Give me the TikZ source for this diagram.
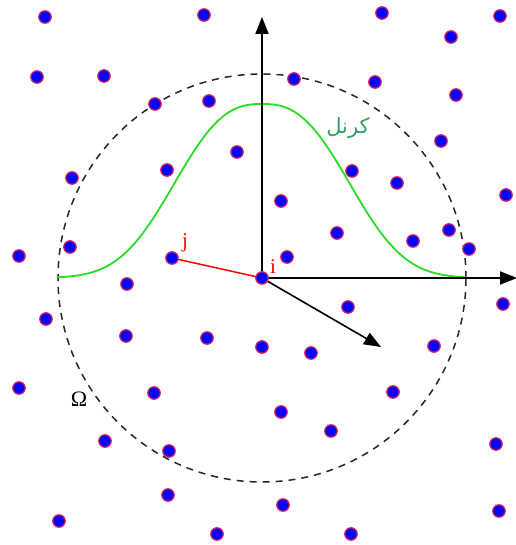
\documentclass[tikz,border=0pt]{standalone}
\usepackage{fontspec}
\newfontfamily\arabicfont[Script=Arabic]{DejaVu Sans}
\newfontfamily\lserif{Liberation Serif}
\TeXXeTstate=1
\usetikzlibrary{arrows.meta}
\definecolor{dotred}{RGB}{215,40,90}
\definecolor{kgreen}{RGB}{40,220,40}
\definecolor{ktext}{RGB}{50,160,100}
\begin{document}
\begin{tikzpicture}[x=1pt,y=-1pt,
  pt/.style={circle,fill=blue,draw=dotred,line width=1.2pt,minimum size=12.5pt,inner sep=0pt},
  axis/.style={line width=2pt,-{Triangle[length=17pt,width=13pt]}},
  dircol/.style={line width=1.6pt,-{Triangle[length=17pt,width=13pt]}},
  omegaline/.style={dashed,dash pattern=on 7pt off 6pt,line width=1.5pt,black!85},
  kcurve/.style={kgreen,line width=1.8pt},
  lbl/.style={red,font=\lserif\fontsize{21pt}{21pt}\selectfont,inner sep=0pt}]
\useasboundingbox (0,0) rectangle (515,545);
\coordinate (i) at (262,278);
\coordinate (j) at (172,258);
\coordinate (ytip) at (262,17);
\coordinate (xtip) at (517,278);
\coordinate (dtip) at (381,347);
% domain
\draw[omegaline] (i) circle (204pt);
% kernel
\draw[kcurve] plot[domain=-205:205,samples=201] ({262+\x},{278-174*exp(-((abs(\x)+0.01)/106)^2.6)});
% axes
\draw[axis] (i) -- (ytip);
\draw[axis] (i) -- (xtip);
\draw[dircol] (i) -- (dtip);
\draw[red,line width=1.5pt] (j) -- (i);
% particles
\foreach \n/\x/\y in {1/45/17,2/204/15,3/382/13,4/500/16,5/451/37,6/37/77,7/104/76,8/155/104,9/209/101,10/294/79,11/375/82,12/456/95,13/237/152,14/441/141,15/167/170,16/72/178,17/352/171,18/397/183,19/506/195,20/281/201,21/337/233,22/449/230,23/413/241,24/70/247,25/469/249,26/19/256,28/287/257,30/127/284,31/348/307,32/503/304,33/46/319,34/126/336,35/207/338,36/262/347,37/311/353,38/434/346,39/19/388,40/154/393,41/393/392,42/281/412,43/331/431,44/105/441,45/169/451,46/496/444,47/168/495,48/283/505,49/499/511,50/59/521,51/217/534,52/351/534}
  \node[pt] (p\n) at (\x,\y) {};
\node[pt] (pj) at (j) {};
\node[pt] (pi) at (i) {};
% labels
\node[lbl] (lj) at (185,243) {j};
\node[lbl] (li) at (273,267) {i};
\node[ktext,font=\arabicfont\fontsize{21pt}{21pt}\selectfont,inner sep=0pt] (lk) at (348,128) {\beginR کرنل\endR};
\node[font=\lserif\fontsize{22pt}{22pt}\selectfont,inner sep=0pt] (lo) at (79,399) {Ω};
\end{tikzpicture}
\end{document}
